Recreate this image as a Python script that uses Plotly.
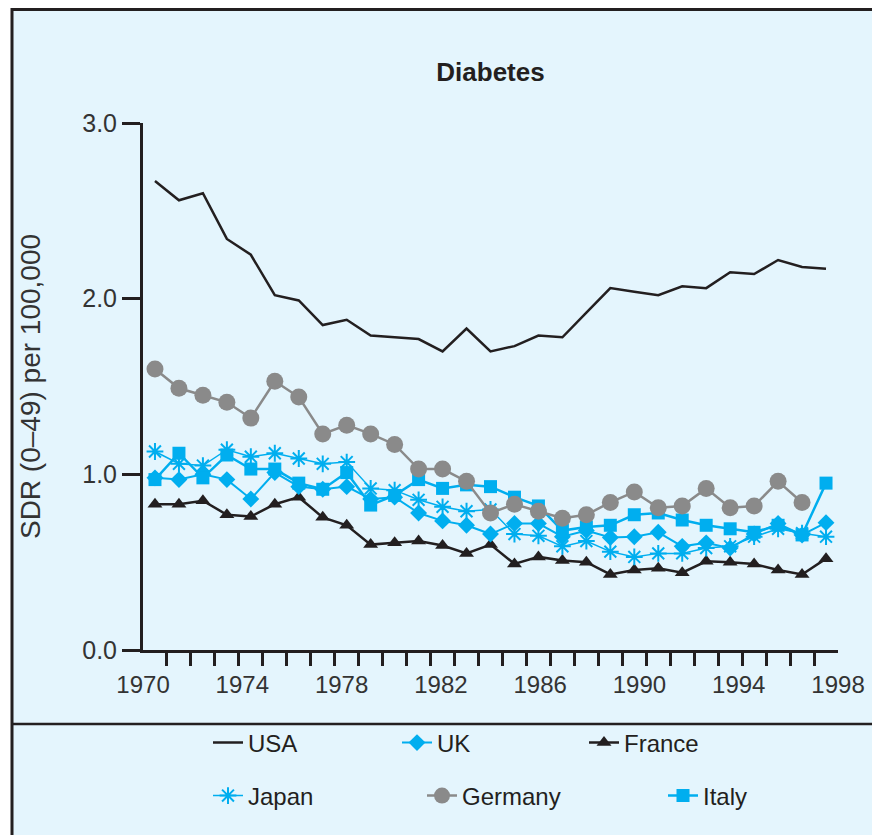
import plotly.graph_objects as go

# ---------------- data ----------------
years = list(range(1970, 1999))
label_years = [1970, 1974, 1978, 1982, 1986, 1990, 1994, 1998]

usa = [2.67, 2.56, 2.60, 2.34, 2.25, 2.02, 1.99, 1.85, 1.88, 1.79,
       1.78, 1.77, 1.70, 1.83, 1.70, 1.73, 1.79, 1.78, 1.92, 2.06,
       2.04, 2.02, 2.07, 2.06, 2.15, 2.14, 2.22, 2.18, 2.17]
uk = [0.98, 0.97, 1.00, 0.97, 0.86, 1.01, 0.93, 0.915, 0.93, 0.86,
      0.87, 0.78, 0.735, 0.71, 0.66, 0.72, 0.72, 0.645, 0.68, 0.64,
      0.645, 0.67, 0.59, 0.61, 0.58, 0.66, 0.72, 0.655, 0.725]
france = [0.83, 0.83, 0.85, 0.77, 0.76, 0.83, 0.87, 0.755, 0.71, 0.60,
          0.61, 0.62, 0.595, 0.55, 0.60, 0.49, 0.53, 0.51, 0.50, 0.43,
          0.455, 0.465, 0.44, 0.505, 0.50, 0.49, 0.455, 0.43, 0.52]
japan = [1.13, 1.06, 1.05, 1.14, 1.10, 1.12, 1.09, 1.06, 1.07, 0.92,
         0.91, 0.855, 0.815, 0.79, 0.80, 0.66, 0.65, 0.59, 0.62, 0.56,
         0.53, 0.55, 0.55, 0.58, 0.59, 0.645, 0.69, 0.665, 0.645]
germany = [1.60, 1.49, 1.45, 1.41, 1.32, 1.53, 1.44, 1.23, 1.28, 1.23,
           1.17, 1.03, 1.03, 0.96, 0.78, 0.83, 0.79, 0.75, 0.77, 0.84,
           0.90, 0.81, 0.82, 0.92, 0.81, 0.82, 0.96, 0.84, None]
italy = [0.97, 1.12, 0.98, 1.11, 1.03, 1.03, 0.95, 0.915, 1.01, 0.825,
         0.88, 0.97, 0.92, 0.94, 0.93, 0.87, 0.82, 0.68, 0.70, 0.71,
         0.77, 0.78, 0.74, 0.71, 0.69, 0.67, 0.71, 0.655, 0.95]

# ---------------- styling ----------------
OFF = 8                      # page body margin
W, H = 880 - OFF, 835 - OFF
ML, MT, PW, PH = 143 - OFF, 123 - OFF, 695, 527
MR, MB = W - ML - PW, H - MT - PH

BG = "#E4F5FD"
BLACK = "#231F20"
CYAN = "#00AEEF"
GREY = "#8A8A8A"
TXT = "#333333"
SANS = "Liberation Sans, Arial, sans-serif"

# one slot per year; ticks on the slot boundaries
x_lo, x_hi = years[0] - 0.5, years[-1] + 0.5
slot_edges = [y - 0.5 for y in years] + [x_hi]
# year labels spread evenly from the left end to the right end of the axis
# (tiny nudge so the invisible label ticks never coincide with the edge ticks)
span = (x_hi - x_lo) / (label_years[-1] - label_years[0])
label_pos = [x_lo + (y - label_years[0]) * span + 1e-3 for y in label_years]


def px_x(p):
    """reference-page x pixel -> paper coordinate"""
    return (p - OFF - ML) / PW


def px_y(p):
    """reference-page y pixel -> paper coordinate"""
    return (MT + PH - (p - OFF)) / PH


fig = go.Figure()

series = [
    # name, values, color, width, symbol, size, legend, rank, entry width
    ("USA", usa, BLACK, 2.5, None, 0, "legend", 1, 144),
    ("France", france, BLACK, 2.5, "triangle-up", 13, "legend", 3, 100),
    ("Japan", japan, CYAN, 1.5, "asterisk-open", 14, "legend2", 4, 169),
    ("UK", uk, CYAN, 2, "diamond", 13, "legend", 2, 142),
    ("Italy", italy, CYAN, 2.5, "square", 13, "legend2", 6, 80),
    ("Germany", germany, GREY, 2.5, "circle", 17, "legend2", 5, 196),
]

for name, vals, col, lw, sym, sz, leg, rank, ew in series:
    if sym is None:
        marker = None
        mode = "lines"
    else:
        marker = dict(symbol=sym, size=sz, color=col,
                      line=dict(color=col, width=2 if "open" in sym else 0))
        mode = "lines+markers"
    fig.add_trace(go.Scatter(
        x=years, y=vals, name=name, mode=mode,
        line=dict(color=col, width=lw),
        marker=marker, legend=leg, legendrank=rank, legendwidth=ew,
        connectgaps=False, cliponaxis=False,
    ))

fig.update_layout(
    width=W, height=H,
    margin=dict(l=ML, r=MR, t=MT, b=MB, autoexpand=False),
    paper_bgcolor="white",
    plot_bgcolor="rgba(0,0,0,0)",
    title=dict(text="<b>Diabetes</b>", x=0.5, xref="paper", xanchor="center",
               y=1 - (72 - OFF) / H, yanchor="middle",
               font=dict(family=SANS, size=26, color=BLACK)),
    xaxis=dict(range=[x_lo, x_hi], showgrid=False, zeroline=False,
               showline=True, linecolor=BLACK, linewidth=3,
               tickmode="array", tickvals=label_pos,
               ticktext=[str(v) for v in label_years],
               ticks="inside", ticklen=1, tickcolor="rgba(0,0,0,0)",
               ticklabelstandoff=11,
               tickfont=dict(family=SANS, size=24, color=TXT),
               minor=dict(tickmode="array", tickvals=slot_edges,
                          ticks="outside", ticklen=13, tickwidth=2.5,
                          tickcolor=BLACK, showgrid=False)),
    yaxis=dict(range=[0, 3], showgrid=False, zeroline=False,
               showline=True, linecolor=BLACK, linewidth=3,
               ticks="outside", tickvals=[0, 1, 2, 3], ticklen=18,
               tickwidth=3, tickcolor=BLACK, tickformat=".1f",
               tickfont=dict(family=SANS, size=25, color=TXT),
               title=dict(text="SDR (0\u201349) per 100,000", standoff=34,
                          font=dict(family=SANS, size=28, color=TXT))),
    legend=dict(orientation="h", x=px_x(208), xanchor="left",
                y=px_y(743), yanchor="middle", bgcolor="rgba(0,0,0,0)",
                font=dict(family=SANS, size=24, color=BLACK),
                traceorder="normal"),
    legend2=dict(orientation="h", x=px_x(208), xanchor="left",
                 y=px_y(796), yanchor="middle", bgcolor="rgba(0,0,0,0)",
                 font=dict(family=SANS, size=24, color=BLACK),
                 traceorder="normal"),
    shapes=[
        dict(type="rect", xref="paper", yref="paper", layer="below",
             x0=px_x(12), x1=px_x(900), y0=px_y(860), y1=px_y(OFF + 1.5),
             fillcolor=BG, line=dict(color=BLACK, width=3)),
        dict(type="line", xref="paper", yref="paper",
             x0=px_x(12), x1=px_x(900), y0=px_y(724), y1=px_y(724),
             line=dict(color=BLACK, width=2.5)),
    ],
)

fig.write_html("out.html")
